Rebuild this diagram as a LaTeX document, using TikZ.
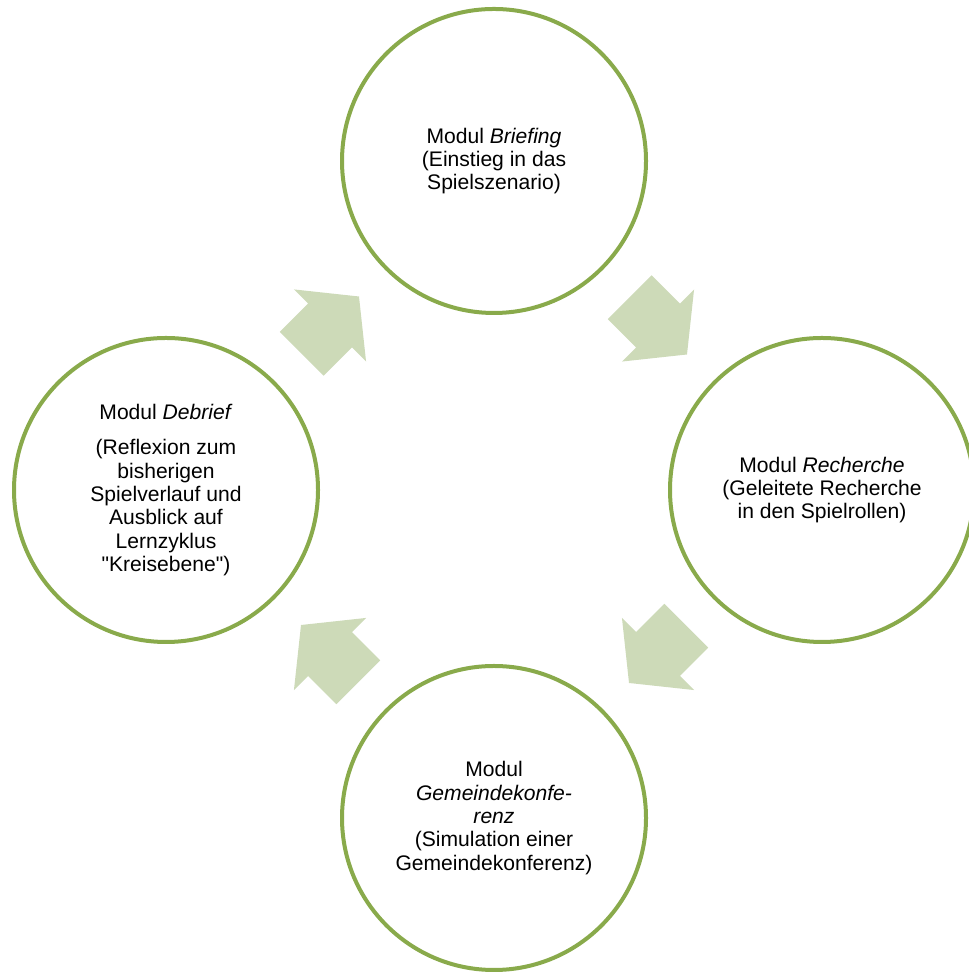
\documentclass[tikz,border=0pt]{standalone}
\usepackage{fontspec}
\setmainfont{Liberation Sans}
\usepackage{tikz}
\usetikzlibrary{positioning,calc}
\definecolor{kreisgruen}{RGB}{137,170,75}
\definecolor{pfeilgruen}{RGB}{205,218,184}

\begin{document}
\begin{tikzpicture}[
  modul/.style={circle, draw=kreisgruen, line width=0.08cm, minimum size=6.08cm,
    inner sep=0pt, align=center, font=\fontsize{12}{13.3}\selectfont},
  pfeil/.style={fill=pfeilgruen}
]
\useasboundingbox (0,0) rectangle (19.36,19.44);

% Module
\node[modul] (briefing) at (9.88,16.22) {Modul \textit{Briefing}\\(Einstieg in das\\Spielszenario)};
\node[modul] (recherche) at (16.44,9.64) {Modul \textit{Recherche}\\(Geleitete Recherche\\in den Spielrollen)};
\node[modul] (konferenz) at (9.88,3.08) {Modul\\\textit{Gemeindekonfe-}\\\textit{renz}\\(Simulation einer\\Gemeindekonferenz)};
\node[modul] (debrief) at (3.32,9.64) {Modul \textit{Debrief}\\[0.24cm](Reflexion zum\\bisherigen\\Spielverlauf und\\Ausblick auf\\Lernzyklus\\\textquotedbl Kreisebene\textquotedbl)};

% Pfeile
\fill[pfeil, shift={($(debrief)!0.5!(briefing)$)}, rotate=45]
  (-0.8,-0.62) -- (0,-0.62) -- (0,-1.02) -- (0.82,0) -- (0,1.02) -- (0,0.62) -- (-0.8,0.62) -- cycle;
\fill[pfeil, shift={($(briefing)!0.5!(recherche)$)}, rotate=-45]
  (-0.8,-0.62) -- (0,-0.62) -- (0,-1.02) -- (0.82,0) -- (0,1.02) -- (0,0.62) -- (-0.8,0.62) -- cycle;
\fill[pfeil, shift={($(recherche)!0.5!(konferenz)$)}, rotate=-135]
  (-0.8,-0.62) -- (0,-0.62) -- (0,-1.02) -- (0.82,0) -- (0,1.02) -- (0,0.62) -- (-0.8,0.62) -- cycle;
\fill[pfeil, shift={($(konferenz)!0.5!(debrief)$)}, rotate=135]
  (-0.8,-0.62) -- (0,-0.62) -- (0,-1.02) -- (0.82,0) -- (0,1.02) -- (0,0.62) -- (-0.8,0.62) -- cycle;
\end{tikzpicture}
\end{document}
